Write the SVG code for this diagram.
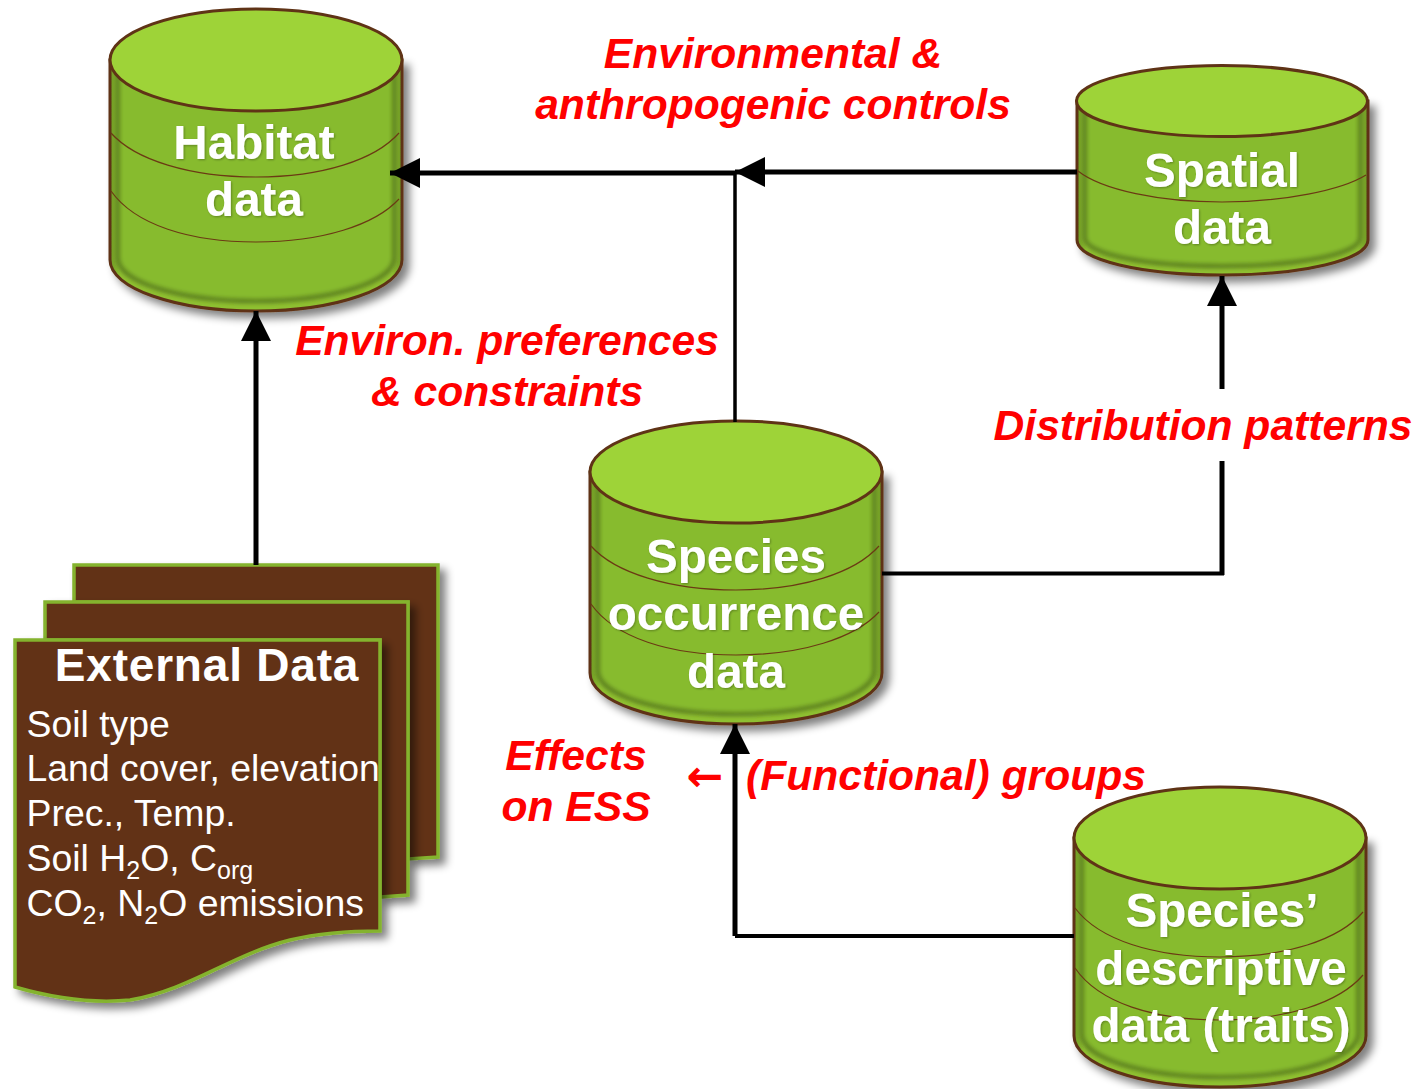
<svg xmlns="http://www.w3.org/2000/svg" width="1416" height="1089" viewBox="0 0 1416 1089">
<style>
text{font-family:"Liberation Sans",Arial,sans-serif}
.cyl{font-weight:700;font-size:47.600px;fill:#fff;text-anchor:middle}
.red{font-weight:700;font-style:italic;font-size:42.600px;fill:#f00;text-anchor:middle}
.body{font-size:37.400px;fill:#fff}
.sub{font-size:25px}
.side{fill:url(#sideG);stroke:#5f3316;stroke-width:3}
.inner{fill:#87bb2e;stroke:#55761b;stroke-width:4;filter:url(#soft)}
.top{fill:#9ed338;stroke:#5f3316;stroke-width:3}
.band{fill:none;stroke:#6b3a14;stroke-width:1.2}
.page{fill:#623216;stroke:#84b32e;stroke-width:3.500}
.conn{fill:none;stroke:#000}
</style>
<defs>
<linearGradient id="sideG" x1="0" x2="1" y1="0" y2="0"><stop offset="0" stop-color="#6f9a28"/><stop offset=".035" stop-color="#8fc031"/><stop offset=".965" stop-color="#8fc031"/><stop offset="1" stop-color="#6f9a28"/></linearGradient>
<filter id="soft" x="-5%" y="-5%" width="110%" height="110%"><feGaussianBlur stdDeviation="2"/></filter>
<filter id="sh" x="-10%" y="-10%" width="125%" height="125%"><feGaussianBlur in="SourceAlpha" stdDeviation="4"/><feOffset dx="6" dy="6"/><feComponentTransfer><feFuncA type="linear" slope=".5"/></feComponentTransfer><feMerge><feMergeNode/><feMergeNode in="SourceGraphic"/></feMerge></filter>
<filter id="ts" x="-10%" y="-10%" width="120%" height="130%"><feGaussianBlur in="SourceAlpha" stdDeviation="1.200"/><feOffset dx="1" dy="1"/><feComponentTransfer><feFuncA type="linear" slope=".3"/></feComponentTransfer><feMerge><feMergeNode/><feMergeNode in="SourceGraphic"/></feMerge></filter>
<marker id="ah" markerUnits="userSpaceOnUse" markerWidth="30" markerHeight="30" refX="30" refY="15" orient="auto" viewBox="0 0 30 30"><path d="M0 0L30 15L0 30Z" fill="#000"/></marker>
</defs>

<g id="habitat">
<g filter="url(#sh)"><path class="side" d="M110 60V260C110 288 175 311 256 311S402 288 402 260V60Z"/></g>
<path class="inner" d="M118 70V258C118 282 180 301 256 301S394 282 394 258V70Z"/>
<path class="band" d="M111 133C135 160 190 177 256 177S375 160 399 133"/>
<path class="band" d="M111 191C135 225 190 242 256 242S375 225 399 199"/>
<ellipse class="top" cx="256" cy="60" rx="146" ry="51"/>
<text class="cyl" filter="url(#ts)" x="254" y="159">Habitat</text>
<text class="cyl" filter="url(#ts)" x="254" y="216">data</text>
</g>

<g id="spatial">
<g filter="url(#sh)"><path class="side" d="M1077 101V240C1077 260 1142 275 1222 275S1368 260 1368 240V101Z"/></g>
<path class="inner" d="M1085 110V238C1085 254 1146 266 1222 266S1360 254 1360 238V110Z"/>
<path class="band" d="M1078 171C1102 190 1160 202 1222 202S1342 190 1366 175"/>
<ellipse class="top" cx="1222" cy="101" rx="145.500" ry="35.500"/>
<text class="cyl" filter="url(#ts)" x="1222" y="187">Spatial</text>
<text class="cyl" filter="url(#ts)" x="1222" y="244">data</text>
</g>

<g id="species">
<g filter="url(#sh)"><path class="side" d="M590 472V673C590 701 655 724 736 724S882 701 882 673V472Z"/></g>
<path class="inner" d="M598 482V671C598 695 660 714 736 714S874 695 874 671V482Z"/>
<path class="band" d="M591 546C615 573 670 590 736 590S855 573 879 546"/>
<path class="band" d="M591 604C615 638 670 655 736 655S855 638 879 612"/>
<ellipse class="top" cx="736" cy="472" rx="146" ry="51"/>
<text class="cyl" filter="url(#ts)" x="736" y="573">Species</text>
<text class="cyl" filter="url(#ts)" x="736" y="630">occurrence</text>
<text class="cyl" filter="url(#ts)" x="736" y="688">data</text>
</g>

<g id="traits">
<g filter="url(#sh)"><path class="side" d="M1074 838V1036C1074 1064 1139 1087 1220 1087S1366 1064 1366 1036V838Z"/></g>
<path class="inner" d="M1082 848V1034C1082 1058 1144 1077 1220 1077S1358 1058 1358 1034V848Z"/>
<path class="band" d="M1075 908C1099 940 1154 957 1220 957S1339 940 1363 912"/>
<path class="band" d="M1075 968C1099 1003 1154 1020 1220 1020S1339 1003 1363 975"/>
<ellipse class="top" cx="1220" cy="838" rx="146" ry="51"/>
<text class="cyl" filter="url(#ts)" x="1222" y="927">Species’</text>
<text class="cyl" filter="url(#ts)" x="1221" y="985">descriptive</text>
<text class="cyl" filter="url(#ts)" x="1221" y="1042">data (traits)</text>
</g>

<g id="external">
<g filter="url(#sh)"><path class="page" d="M74 565H438V857L408 859V602H74Z"/></g>
<g filter="url(#sh)"><path class="page" d="M45 602H408V895L380 897V640H45Z"/></g>
<g filter="url(#sh)"><path class="page" d="M15 640H380V931C350 931 320 933 290 940C230 955 190 990 130 1000C100 1003 60 1000 15 987Z"/></g>
<text x="207" y="681" fill="#fff" font-weight="700" font-size="46" letter-spacing=".8" text-anchor="middle">External Data</text>
<text class="body" x="26.500" y="737">Soil type</text>
<text class="body" x="26.500" y="781">Land cover, elevation</text>
<text class="body" x="26.500" y="826">Prec., Temp.</text>
<text class="body" x="26.500" y="871">Soil H<tspan class="sub" dy="8">2</tspan><tspan dy="-8">O, C</tspan><tspan class="sub" dy="8">org</tspan></text>
<text class="body" x="26.500" y="916">CO<tspan class="sub" dy="8">2</tspan><tspan dy="-8">, N</tspan><tspan class="sub" dy="8">2</tspan><tspan dy="-8">O emissions</tspan></text>
</g>

<g id="connectors">
<path class="conn" stroke-width="5" d="M256 565V311" marker-end="url(#ah)"/>
<path class="conn" stroke-width="5" d="M1077 172H735" marker-end="url(#ah)"/>
<path class="conn" stroke-width="5" d="M735 173H390" marker-end="url(#ah)"/>
<path class="conn" stroke-width="3.500" d="M735 173V422"/>
<path class="conn" stroke-width="4" d="M882 573.500H1224"/>
<path class="conn" stroke-width="5" d="M1222 575V461"/>
<path class="conn" stroke-width="5" d="M1222 389V276" marker-end="url(#ah)"/>
<path class="conn" stroke-width="4" d="M1074 936H735"/>
<path class="conn" stroke-width="5" d="M735 936V724" marker-end="url(#ah)"/>
</g>

<g id="labels">
<text class="red" x="773" y="68">Environmental &amp;</text>
<text class="red" x="773" y="119">anthropogenic controls</text>
<text class="red" x="507" y="355">Environ. preferences</text>
<text class="red" x="507" y="406">&amp; constraints</text>
<text class="red" x="1203" y="440">Distribution patterns</text>
<text class="red" x="576" y="770">Effects</text>
<text class="red" x="576" y="821">on ESS</text>
<text class="red" x="946" y="790">(Functional) groups</text>
<text x="705" y="791" style="font-family:'DejaVu Sans',sans-serif;font-size:44px;font-weight:700;fill:#f00" text-anchor="middle">←</text>
</g>
</svg>
